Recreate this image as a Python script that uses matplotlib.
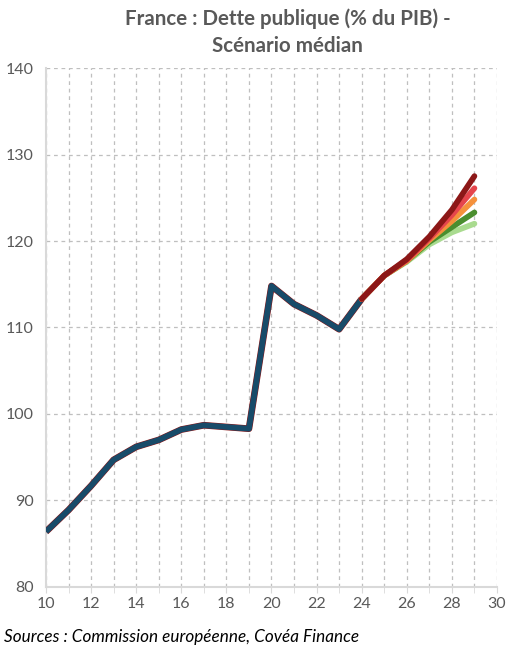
import matplotlib.pyplot as plt
from matplotlib.ticker import MultipleLocator

plt.rcParams['font.family'] = ['Lato', 'DejaVu Sans']

# Historique
annees_hist = [10, 11, 12, 13, 14, 15, 16, 17, 18, 19, 20, 21, 22, 23, 24]
dette_hist = [86.4, 88.9, 91.7, 94.7, 96.2, 97.0, 98.2, 98.7, 98.5, 98.3,
              114.8, 112.7, 111.4, 109.8, 113.3]

# Scénarios
annees_scen = [24, 25, 26, 27, 28, 29]
scenarios = {
    'vert clair': [113.3, 116.0, 117.6, 119.6, 121.0, 122.0],
    'vert': [113.3, 116.0, 117.7, 119.9, 121.6, 123.3],
    'orange': [113.3, 116.0, 117.7, 120.1, 122.3, 124.8],
    'rouge': [113.3, 116.0, 117.8, 120.3, 123.0, 126.1],
    'rouge fonce': [113.3, 116.0, 117.9, 120.5, 123.6, 127.5],
}
couleurs = {
    'vert clair': '#A9DB8F',
    'vert': '#4A8E2F',
    'orange': '#F5913C',
    'rouge': '#E5454C',
    'rouge fonce': '#8C1717',
}

fig = plt.figure(figsize=(5.15, 6.72), dpi=100)
ax = fig.add_axes([0.0893, 0.1265, 0.8757, 0.7723])

ax.plot(annees_hist, dette_hist, color='#8C1717', lw=4.8, zorder=3, solid_capstyle='butt')
ax.plot(annees_hist, dette_hist, color='#184B69', lw=4.1, zorder=4, solid_capstyle='butt')
for nom, valeurs in scenarios.items():
    ax.plot(annees_scen, valeurs, color=couleurs[nom], lw=4.1, zorder=5,
            solid_capstyle='round')

ax.set_xlim(10, 30)
ax.set_ylim(80, 140)
ax.xaxis.set_major_locator(MultipleLocator(2))
ax.xaxis.set_minor_locator(MultipleLocator(1))
ax.yaxis.set_major_locator(MultipleLocator(10))

ax.grid(True, which='both', axis='x', color='#BFBFBF', ls=(0, (3, 3)), lw=0.9)
ax.grid(True, which='major', axis='y', color='#BFBFBF', ls=(0, (3, 3)), lw=0.9)
ax.set_axisbelow(True)

for s in ['top', 'right']:
    ax.spines[s].set_visible(False)
for s in ['left', 'bottom']:
    ax.spines[s].set_color('#D9D9D9')
    ax.spines[s].set_linewidth(1.5)

ax.tick_params(axis='both', which='major', labelsize=11.5, labelcolor='#595959',
               color='#D9D9D9', length=4)
ax.tick_params(axis='x', which='minor', color='#D9D9D9', length=4)
ax.tick_params(axis='y', length=0, pad=9)

fig.text(0.558, 0.972, 'France : Dette publique (% du PIB) -', ha='center', va='center',
         fontsize=14.8, fontweight='bold', color='#595959')
fig.text(0.558, 0.932, 'Scénario médian', ha='center', va='center',
         fontsize=14.8, fontweight='bold', color='#595959')
fig.text(0.008, 0.052, 'Sources : Commission européenne, Covéa Finance', ha='left', va='center',
         fontsize=12.3, style='italic', color='black')

fig.savefig('out.png', dpi=100)
